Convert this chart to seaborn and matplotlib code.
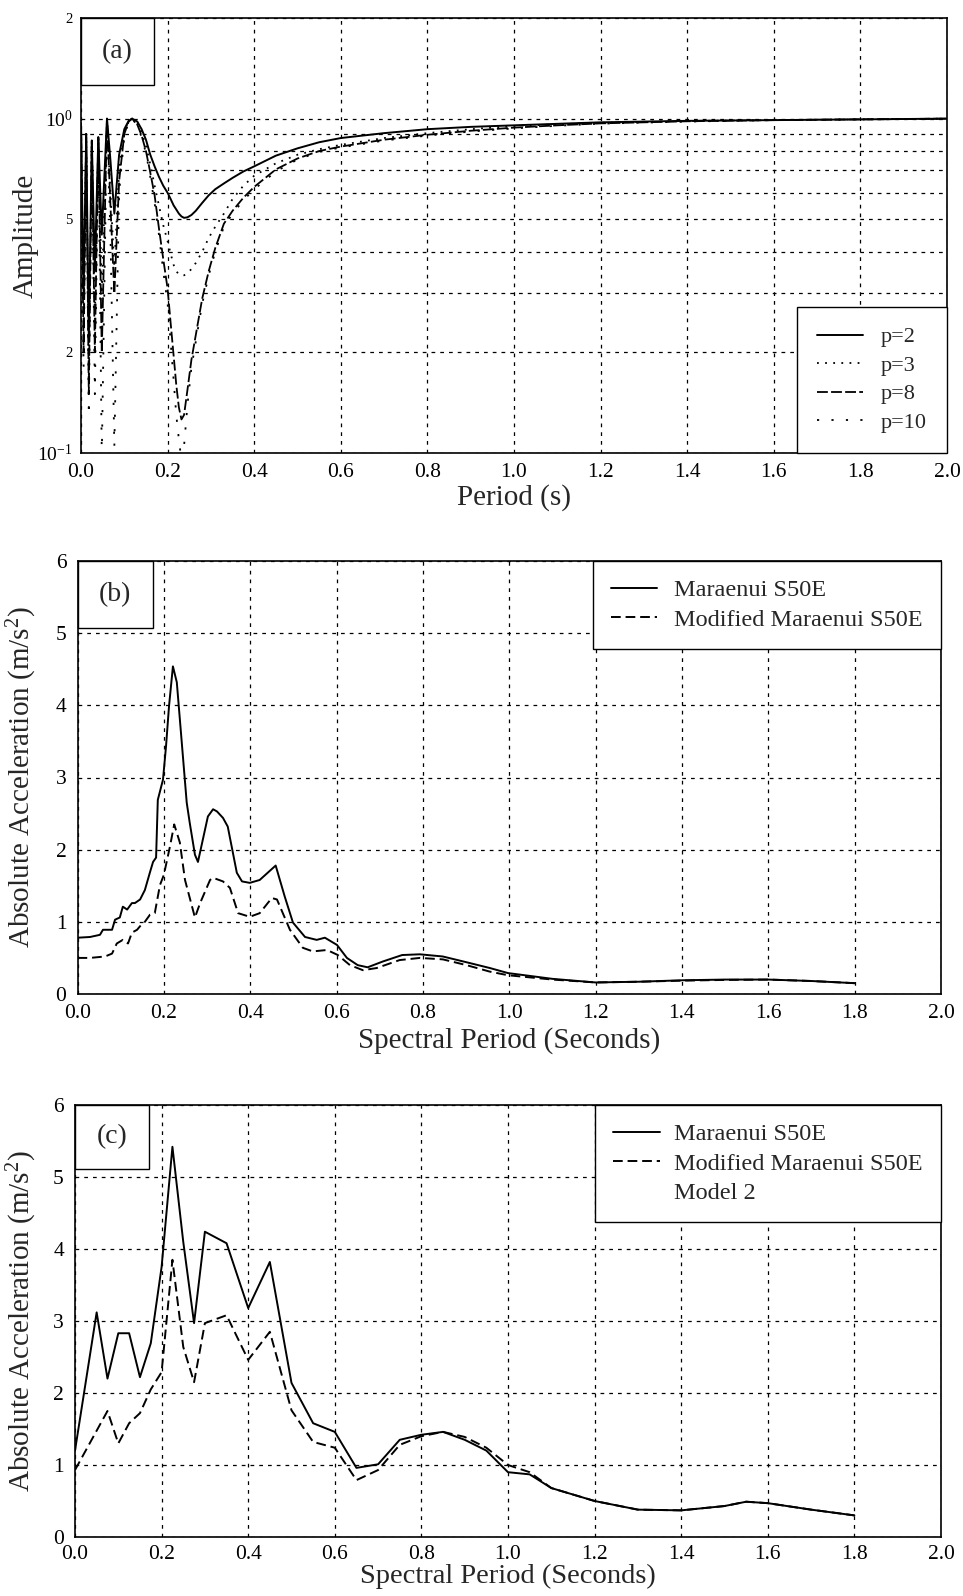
import numpy as np
import pandas as pd
import matplotlib
matplotlib.use("Agg")
import matplotlib.pyplot as plt
import seaborn as sns
from matplotlib.patches import Rectangle
from matplotlib.lines import Line2D
from matplotlib.ticker import FixedLocator, FixedFormatter

# ---------------- data: panel (a) ----------------
a_period = [0.0, 0.006, 0.012, 0.018, 0.025, 0.032, 0.04, 0.048, 0.06, 0.068, 0.077, 0.088,
            0.1, 0.11, 0.118, 0.13, 0.14, 0.15, 0.16, 0.17, 0.18, 0.19, 0.2, 0.207, 0.214,
            0.22, 0.226, 0.232, 0.238, 0.246, 0.255, 0.265, 0.28, 0.295, 0.31, 0.33, 0.35,
            0.375, 0.4, 0.45, 0.5, 0.55, 0.6, 0.7, 0.8, 0.9, 1.0, 1.1, 1.2, 1.4, 1.6, 1.8, 2.0]
amp_p2 = [0.97, 0.3, 0.9, 0.22, 0.86, 0.35, 0.88, 0.45, 1.0, 0.75, 0.52, 0.78,
          0.93, 0.985, 1.0, 0.98, 0.93, 0.865, 0.78, 0.72, 0.67, 0.63, 0.6, 0.575, 0.55,
          0.535, 0.52, 0.51, 0.505, 0.507, 0.515, 0.53, 0.56, 0.59, 0.615, 0.64, 0.665,
          0.695, 0.72, 0.775, 0.815, 0.85, 0.875, 0.905, 0.93, 0.945, 0.955, 0.965, 0.975,
          0.985, 0.99, 0.995, 1.0]
amp_p3 = [0.97, 0.25, 0.9, 0.17, 0.86, 0.25, 0.88, 0.3, 1.0, 0.6, 0.36, 0.7,
          0.92, 0.985, 1.0, 0.97, 0.91, 0.83, 0.73, 0.63, 0.55, 0.48, 0.43, 0.395, 0.365,
          0.35, 0.342, 0.34, 0.34, 0.345, 0.355, 0.37, 0.4, 0.44, 0.475, 0.52, 0.575,
          0.63, 0.675, 0.735, 0.78, 0.81, 0.835, 0.875, 0.905, 0.93, 0.95, 0.962, 0.972,
          0.984, 0.99, 0.995, 1.0]
amp_p8 = [0.97, 0.2, 0.9, 0.15, 0.86, 0.2, 0.88, 0.2, 1.0, 0.55, 0.3, 0.65,
          0.9, 0.98, 1.0, 0.96, 0.89, 0.8, 0.69, 0.59, 0.47, 0.38, 0.31, 0.245, 0.195,
          0.16, 0.137, 0.126, 0.13, 0.155, 0.19, 0.225, 0.29, 0.35, 0.41, 0.485, 0.53,
          0.58, 0.625, 0.705, 0.76, 0.8, 0.825, 0.865, 0.895, 0.92, 0.94, 0.955, 0.968,
          0.982, 0.99, 0.995, 1.0]
amp_p10 = [0.97, 0.18, 0.9, 0.13, 0.86, 0.15, 0.88, 0.098, 1.0, 0.45, 0.105, 0.6,
           0.89, 0.975, 1.0, 0.955, 0.88, 0.79, 0.67, 0.56, 0.45, 0.35, 0.28, 0.215, 0.165,
           0.13, 0.11, 0.095, 0.105, 0.14, 0.18, 0.215, 0.28, 0.34, 0.4, 0.475, 0.52,
           0.57, 0.615, 0.695, 0.755, 0.795, 0.82, 0.86, 0.89, 0.915, 0.935, 0.952, 0.966,
           0.98, 0.99, 0.995, 1.0]

# ---------------- data: panel (b) ----------------
b_period_orig = [0.0, 0.029, 0.052, 0.059, 0.08, 0.087, 0.098, 0.105, 0.115, 0.126, 0.133,
                 0.145, 0.156, 0.168, 0.175, 0.182, 0.186, 0.198, 0.205, 0.212, 0.221, 0.23,
                 0.253, 0.26, 0.272, 0.279, 0.302, 0.314, 0.323, 0.337, 0.348, 0.369, 0.381,
                 0.399, 0.422, 0.459, 0.48, 0.499, 0.527, 0.554, 0.573, 0.601, 0.624, 0.649,
                 0.672, 0.707, 0.752, 0.793, 0.846, 0.901, 0.955, 0.997, 1.1, 1.2, 1.3, 1.4,
                 1.5, 1.6, 1.7, 1.8]
b_acc_orig = [0.78, 0.79, 0.82, 0.89, 0.89, 1.03, 1.06, 1.21, 1.17, 1.26, 1.26,
              1.31, 1.44, 1.69, 1.83, 1.89, 2.69, 2.97, 3.43, 3.99, 4.54, 4.32,
              2.65, 2.37, 1.93, 1.83, 2.46, 2.56, 2.53, 2.44, 2.32, 1.68, 1.56,
              1.54, 1.58, 1.78, 1.35, 0.99, 0.79, 0.75, 0.78, 0.68, 0.5, 0.4,
              0.37, 0.45, 0.54, 0.55, 0.52, 0.44, 0.36, 0.29, 0.21, 0.16, 0.17, 0.19,
              0.2, 0.2, 0.18, 0.15]
b_period_mod = [0.0, 0.029, 0.064, 0.08, 0.091, 0.105, 0.117, 0.126, 0.138, 0.145, 0.156,
                0.168, 0.179, 0.191, 0.2, 0.214, 0.224, 0.237, 0.249, 0.272, 0.284, 0.307,
                0.314, 0.337, 0.353, 0.372, 0.399, 0.422, 0.45, 0.462, 0.492, 0.522, 0.545,
                0.578, 0.603, 0.631, 0.661, 0.693, 0.746, 0.793, 0.846, 0.901, 0.955, 0.997,
                1.1, 1.2, 1.3, 1.4, 1.5, 1.6, 1.7, 1.8]
b_acc_mod = [0.5, 0.5, 0.52, 0.56, 0.7, 0.75, 0.7, 0.85, 0.89, 0.94, 1.0,
             1.1, 1.12, 1.51, 1.65, 2.04, 2.35, 2.1, 1.58, 1.06, 1.26, 1.58,
             1.61, 1.56, 1.47, 1.12, 1.07, 1.12, 1.33, 1.31, 0.89, 0.64, 0.59,
             0.61, 0.54, 0.4, 0.33, 0.36, 0.47, 0.5, 0.48, 0.4, 0.31, 0.26,
             0.2, 0.16, 0.17, 0.185, 0.195, 0.2, 0.18, 0.15]

# ---------------- data: panel (c) ----------------
c_period_orig = [0.0, 0.05, 0.075, 0.1, 0.125, 0.15, 0.175, 0.2, 0.225, 0.25, 0.275, 0.3,
                 0.35, 0.4, 0.45, 0.5, 0.55, 0.6, 0.65, 0.7, 0.75, 0.8, 0.85, 0.9, 0.95,
                 1.0, 1.05, 1.1, 1.2, 1.3, 1.4, 1.5, 1.55, 1.6, 1.7, 1.8]
c_acc_orig = [1.2, 3.12, 2.2, 2.83, 2.83, 2.22, 2.69, 3.75, 5.42, 4.1, 2.97, 4.24,
              4.08, 3.18, 3.82, 2.14, 1.58, 1.46, 0.96, 1.01, 1.35, 1.42, 1.46, 1.35, 1.2,
              0.9, 0.87, 0.68, 0.5, 0.38, 0.37, 0.43, 0.49, 0.47, 0.38, 0.3]
c_period_mod = [0.0, 0.075, 0.1, 0.125, 0.15, 0.175, 0.2, 0.225, 0.25, 0.275, 0.3,
                0.35, 0.4, 0.45, 0.5, 0.55, 0.6, 0.65, 0.7, 0.75, 0.8, 0.85, 0.9, 0.95,
                1.0, 1.05, 1.1, 1.2, 1.3, 1.4, 1.5, 1.55, 1.6, 1.7, 1.8]
c_acc_mod = [0.93, 1.75, 1.3, 1.58, 1.72, 2.05, 2.29, 3.85, 2.64, 2.15, 2.97,
             3.08, 2.46, 2.85, 1.76, 1.32, 1.24, 0.79, 0.93, 1.28, 1.4, 1.46, 1.39, 1.24,
             1.0, 0.9, 0.68, 0.5, 0.38, 0.37, 0.43, 0.49, 0.47, 0.38, 0.3]

x_ticks = [0.0, 0.2, 0.4, 0.6, 0.8, 1.0, 1.2, 1.4, 1.6, 1.8, 2.0]
a_major_ticks = [0.1, 0.2, 0.5, 1.0, 2.0]
a_major_labels = ["$10^{-1}$", "2", "5", "$10^{0}$", "2"]
a_minor_ticks = [0.3, 0.4, 0.6, 0.7, 0.8, 0.9]
acc_ticks = [0, 1, 2, 3, 4, 5, 6]

# ---------------- style ----------------
sns.set_theme(style="white")
plt.rcParams["font.family"] = ["Liberation Serif", "DejaVu Serif"]
plt.rcParams["mathtext.fontset"] = "custom"
plt.rcParams["mathtext.rm"] = "Liberation Serif"
plt.rcParams["mathtext.it"] = "Liberation Serif:italic"
plt.rcParams["mathtext.bf"] = "Liberation Serif:bold"
plt.rcParams["axes.edgecolor"] = "black"
plt.rcParams["axes.linewidth"] = 1.2

W, H = 963, 1596
fig = plt.figure(figsize=(W / 100, H / 100), dpi=100)
fig.patch.set_facecolor("white")

ax_a = fig.add_axes([81 / W, 1 - 453 / H, 866 / W, 435 / H])
ax_b = fig.add_axes([77.5 / W, 1 - 994 / H, 863.5 / W, 433 / H])
ax_c = fig.add_axes([75 / W, 1 - 1537 / H, 866 / W, 432 / H])

GRID = dict(color="black", linestyle=(0, (3, 4)), linewidth=0.9)
LW = 1.4
DASH = (0, (5, 2.5))

def finish_common(ax, xpad=7):
    ax.set_axisbelow(True)
    for s in ax.spines.values():
        s.set_color("black")
        s.set_linewidth(1.2)
    ax.tick_params(axis="both", which="both", length=0, colors="black")
    ax.set_xlim(0, 2.0)
    ax.xaxis.set_major_locator(FixedLocator(x_ticks))
    ax.set_xticklabels([f"{v:.1f}" for v in x_ticks], fontsize=15.5)
    ax.tick_params(axis="x", pad=xpad)
    ax.grid(True, axis="x", which="major", **GRID)

def panel_box(ax, txt, w, h):
    ax.add_patch(Rectangle((0, 1 - h), w, h, transform=ax.transAxes,
                           facecolor="white", edgecolor="black", lw=1.0, zorder=6,
                           clip_on=False))
    ax.text(w / 2, 1 - h / 2, txt, transform=ax.transAxes, ha="center", va="center",
            fontsize=20, zorder=7)

# ---------------- panel (a) ----------------
df_a = pd.DataFrame({"period": a_period, "p2": amp_p2, "p3": amp_p3,
                     "p8": amp_p8, "p10": amp_p10})
styles_a = [("p2", "p=2", "-", 1.4),
            ("p3", "p=3", (0, (1, 3.5)), 1.3),
            ("p8", "p=8", (0, (6, 1.8)), 1.3),
            ("p10", "p=10", (0, (1.2, 6.8)), 1.3)]
for col, lab, ls, lw in styles_a:
    sns.lineplot(data=df_a, x="period", y=col, ax=ax_a, color="black", linestyle=ls,
                 linewidth=lw, label=lab, estimator=None)
ax_a.set_yscale("log")
ax_a.set_ylim(0.1, 2.0)
ax_a.yaxis.set_major_locator(FixedLocator(a_major_ticks))
ax_a.yaxis.set_major_formatter(FixedFormatter(a_major_labels))
ax_a.yaxis.set_minor_locator(FixedLocator(a_minor_ticks))
ax_a.yaxis.set_minor_formatter(FixedFormatter([""] * len(a_minor_ticks)))
for t, lab in zip(ax_a.get_yticklabels(), a_major_labels):
    t.set_fontsize(14 if "10" in lab else 10.5)
ax_a.tick_params(axis="y", which="both", pad=6)
ax_a.grid(True, axis="y", which="both", **GRID)
finish_common(ax_a)
ax_a.set_xlabel("Period (s)", fontsize=21, labelpad=2)
ax_a.set_ylabel("Amplitude", fontsize=21)
ax_a.yaxis.set_label_coords(-0.049, 0.5)
leg_a = ax_a.legend(loc="lower right", bbox_to_anchor=(1.0, 0.0), borderaxespad=0,
                    fontsize=16, frameon=True, fancybox=False, framealpha=1,
                    edgecolor="black", handlelength=2.1, handletextpad=0.8,
                    labelspacing=0.36, borderpad=0.9)
leg_a.get_frame().set_linewidth(1.0)
panel_box(ax_a, "(a)", 73 / 866, 67 / 435)

# ---------------- panel (b) ----------------
sns.lineplot(x=b_period_orig, y=b_acc_orig, ax=ax_b, color="black", linewidth=LW,
             label="Maraenui S50E", estimator=None)
sns.lineplot(x=b_period_mod, y=b_acc_mod, ax=ax_b, color="black", linewidth=LW,
             linestyle=DASH, label="Modified Maraenui S50E", estimator=None)
ax_b.set_ylim(0, 6)
ax_b.yaxis.set_major_locator(FixedLocator(acc_ticks))
ax_b.set_yticklabels([str(v) for v in acc_ticks], fontsize=15.5)
ax_b.tick_params(axis="y", pad=8)
ax_b.grid(True, axis="y", which="major", **GRID)
finish_common(ax_b)
ax_b.set_xlabel("Spectral Period (Seconds)", fontsize=21, labelpad=3)
ax_b.set_ylabel("Absolute Acceleration (m/s$^2$)", fontsize=21)
ax_b.yaxis.set_label_coords(-0.045, 0.5)
leg_b = ax_b.legend(loc="upper right", bbox_to_anchor=(1.0, 1.0), borderaxespad=0,
                    fontsize=17.5, frameon=True, fancybox=False, framealpha=1,
                    edgecolor="black", handlelength=1.9, handletextpad=0.7,
                    labelspacing=0.3, borderpad=0.75)
leg_b.get_frame().set_linewidth(1.0)
panel_box(ax_b, "(b)", 75.5 / 863.5, 67 / 433)

# ---------------- panel (c) ----------------
sns.lineplot(x=c_period_orig, y=c_acc_orig, ax=ax_c, color="black", linewidth=LW,
             label="Maraenui S50E", estimator=None)
sns.lineplot(x=c_period_mod, y=c_acc_mod, ax=ax_c, color="black", linewidth=LW,
             linestyle=DASH, label="Modified Maraenui S50E", estimator=None)
ax_c.set_ylim(0, 6)
ax_c.yaxis.set_major_locator(FixedLocator(acc_ticks))
ax_c.set_yticklabels([str(v) for v in acc_ticks], fontsize=15.5)
ax_c.tick_params(axis="y", pad=8)
ax_c.grid(True, axis="y", which="major", **GRID)
finish_common(ax_c, xpad=6)
ax_c.set_xlabel("Spectral Period (Seconds)", fontsize=20.5, labelpad=0)
ax_c.set_ylabel("Absolute Acceleration (m/s$^2$)", fontsize=21)
ax_c.yaxis.set_label_coords(-0.042, 0.5)
h_c, l_c = ax_c.get_legend_handles_labels()
h_c.append(Line2D([], [], color="none"))
l_c.append("Model 2")
leg_c = ax_c.legend(h_c, l_c, loc="upper right", bbox_to_anchor=(1.0, 1.0),
                    borderaxespad=0, fontsize=17.5, frameon=True, fancybox=False,
                    framealpha=1, edgecolor="black", handlelength=1.9,
                    handletextpad=0.6, labelspacing=0.3, borderpad=0.75)
leg_c.get_frame().set_linewidth(1.0)
panel_box(ax_c, "(c)", 74 / 866, 64 / 432)

fig.savefig("out.png", dpi=100, facecolor="white")
